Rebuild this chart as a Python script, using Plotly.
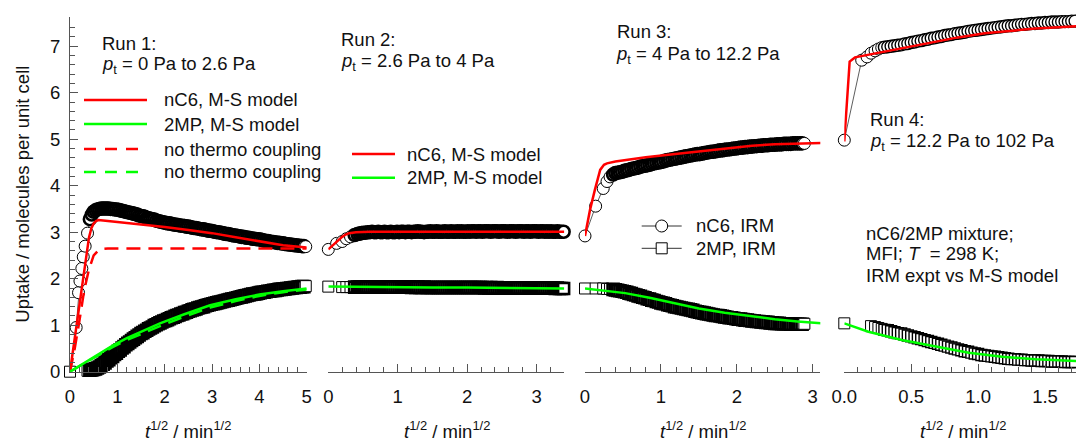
import plotly.graph_objects as go

# ---------------- IRM uptake data (t^1/2 in min^1/2, molecules per unit cell) ----------------
# Run 1: p_t = 0 Pa -> 2.6 Pa
t1 = [0.0, 0.13, 0.18, 0.21, 0.25, 0.28, 0.32, 0.37, 0.42, 0.46,
      0.50, 0.54, 0.58, 0.62, 0.66, 0.70, 0.74, 0.78, 0.82, 0.86, 0.90, 0.94, 0.98,
      1.02, 1.06, 1.10, 1.14, 1.18, 1.22, 1.26, 1.30, 1.34, 1.38, 1.42, 1.46, 1.50,
      1.54, 1.58, 1.62, 1.66, 1.70, 1.74, 1.78, 1.82, 1.86, 1.90, 1.94, 1.98,
      2.02, 2.06, 2.10, 2.14, 2.18, 2.22, 2.26, 2.30, 2.34, 2.38, 2.42, 2.46, 2.50,
      2.54, 2.58, 2.62, 2.66, 2.70, 2.74, 2.78, 2.82, 2.86, 2.90, 2.94, 2.98,
      3.02, 3.06, 3.10, 3.14, 3.18, 3.22, 3.26, 3.30, 3.34, 3.38, 3.42, 3.46, 3.50,
      3.54, 3.58, 3.62, 3.66, 3.70, 3.74, 3.78, 3.82, 3.86, 3.90, 3.94, 3.98,
      4.02, 4.06, 4.10, 4.14, 4.18, 4.22, 4.26, 4.30, 4.34, 4.38, 4.42, 4.46, 4.50,
      4.54, 4.58, 4.62, 4.66, 4.70, 4.74, 4.78, 4.82, 4.86, 4.90, 4.94, 4.98]
nc6_run1 = [None, 0.95, 1.70, 1.95, 2.22, 2.47, 2.70, 2.98, 3.28, 3.38,
            3.44, 3.47, 3.49, 3.50, 3.51, 3.51, 3.51, 3.51, 3.51, 3.50, 3.50, 3.49, 3.49,
            3.48, 3.47, 3.46, 3.45, 3.44, 3.43, 3.42, 3.41, 3.40, 3.39, 3.38, 3.36, 3.35,
            3.34, 3.33, 3.31, 3.30, 3.29, 3.28, 3.27, 3.25, 3.24, 3.23, 3.22, 3.21,
            3.20, 3.19, 3.19, 3.18, 3.17, 3.16, 3.16, 3.15, 3.14, 3.14, 3.13, 3.12, 3.12,
            3.11, 3.10, 3.09, 3.09, 3.08, 3.07, 3.06, 3.06, 3.05, 3.04, 3.03, 3.03,
            3.02, 3.01, 3.00, 3.00, 2.99, 2.98, 2.97, 2.96, 2.96, 2.95, 2.94, 2.93, 2.93,
            2.92, 2.91, 2.90, 2.90, 2.89, 2.88, 2.88, 2.87, 2.86, 2.86, 2.85, 2.85,
            2.84, 2.83, 2.82, 2.81, 2.81, 2.80, 2.79, 2.79, 2.78, 2.77, 2.77, 2.76, 2.76,
            2.75, 2.74, 2.74, 2.73, 2.73, 2.72, 2.72, 2.71, 2.71, 2.70, 2.70, 2.69]
mp_run1 = [0.0, None, None, None, None, None, None, 0.02, 0.03, 0.04,
           0.05, 0.06, 0.08, 0.10, 0.13, 0.16, 0.19, 0.23, 0.26, 0.30, 0.33, 0.37, 0.40,
           0.44, 0.47, 0.51, 0.54, 0.58, 0.61, 0.64, 0.67, 0.70, 0.73, 0.76, 0.79, 0.82,
           0.84, 0.87, 0.89, 0.92, 0.94, 0.96, 0.99, 1.01, 1.03, 1.05, 1.07, 1.09,
           1.10, 1.12, 1.14, 1.16, 1.17, 1.19, 1.21, 1.22, 1.24, 1.25, 1.27, 1.28, 1.30,
           1.31, 1.33, 1.34, 1.35, 1.37, 1.38, 1.39, 1.40, 1.42, 1.43, 1.44, 1.45,
           1.46, 1.47, 1.48, 1.49, 1.50, 1.51, 1.52, 1.53, 1.54, 1.55, 1.56, 1.57, 1.58,
           1.59, 1.60, 1.61, 1.62, 1.63, 1.64, 1.65, 1.66, 1.67, 1.67, 1.68, 1.69,
           1.70, 1.71, 1.71, 1.72, 1.73, 1.73, 1.74, 1.75, 1.75, 1.76, 1.77, 1.77, 1.78,
           1.78, 1.79, 1.79, 1.80, 1.80, 1.81, 1.81, 1.82, 1.82, 1.83, 1.83, 1.84]

# Run 2: p_t = 2.6 Pa -> 4 Pa
t2 = [0.0, 0.12, 0.20, 0.26, 0.32, 0.38, 0.42,
      0.45, 0.48, 0.51, 0.54, 0.57, 0.60, 0.63, 0.66, 0.69, 0.72, 0.75, 0.78, 0.81,
      0.84, 0.87, 0.90, 0.93, 0.96, 0.99,
      1.02, 1.05, 1.08, 1.11, 1.14, 1.17, 1.20, 1.23, 1.26, 1.29, 1.32, 1.35, 1.38,
      1.41, 1.44, 1.47, 1.50, 1.53, 1.56, 1.59, 1.62, 1.65, 1.68, 1.71, 1.74, 1.77,
      1.80, 1.83, 1.86, 1.89, 1.92, 1.95, 1.98,
      2.01, 2.04, 2.07, 2.10, 2.13, 2.16, 2.19, 2.22, 2.25, 2.28, 2.31, 2.34, 2.37,
      2.40, 2.43, 2.46, 2.49, 2.52, 2.55, 2.58, 2.61, 2.64, 2.67, 2.70, 2.73, 2.76,
      2.79, 2.82, 2.85, 2.88, 2.91, 2.94, 2.97,
      3.00, 3.03, 3.06, 3.09, 3.12, 3.15, 3.18, 3.21, 3.24, 3.27, 3.30, 3.33, 3.36,
      3.39, 3.42]
nc6_run2 = [2.63, 2.76, 2.80, 2.86, 2.90, 2.94, 2.96,
            2.97, 2.98, 2.99, 2.99, 3.00, 3.00, 3.01, 3.00, 3.00, 3.01, 3.00, 3.00, 3.01,
            3.00, 3.00, 3.01, 3.00, 3.00, 3.01,
            3.00, 3.01, 3.01, 3.00, 3.01, 3.01, 3.00, 3.01, 3.01, 3.02, 3.01, 3.01, 3.00,
            3.01, 3.01, 3.02, 3.01, 3.01, 3.02, 3.01, 3.01, 3.01, 3.02, 3.01, 3.01, 3.02,
            3.01, 3.01, 3.02, 3.01, 3.02, 3.01, 3.01,
            3.02, 3.01, 3.02, 3.02, 3.01, 3.02, 3.02, 3.01, 3.02, 3.02, 3.02, 3.01, 3.02,
            3.02, 3.02, 3.01, 3.02, 3.02, 3.02, 3.01, 3.02, 3.02, 3.02, 3.01, 3.02, 3.02,
            3.02, 3.01, 3.02, 3.02, 3.01, 3.02, 3.02,
            3.02, 3.01, 3.02, 3.02, 3.01, 3.02, 3.01, 3.02, 3.01, 3.01, 3.02, 3.01, 3.01,
            3.01, 3.01]
mp_run2 = [1.83, None, 1.82, 1.82, 1.82, 1.82, 1.82,
           1.82, 1.82, 1.82, 1.82, 1.82, 1.82, 1.82, 1.82, 1.82, 1.82, 1.82, 1.82, 1.82,
           1.82, 1.82, 1.82, 1.82, 1.82, 1.82,
           1.82, 1.82, 1.82, 1.82, 1.82, 1.82, 1.81, 1.82, 1.81, 1.82, 1.81, 1.81, 1.82,
           1.81, 1.81, 1.81, 1.81, 1.81, 1.81, 1.81, 1.81, 1.81, 1.81, 1.81, 1.81, 1.81,
           1.81, 1.81, 1.81, 1.81, 1.81, 1.81, 1.81,
           1.81, 1.81, 1.81, 1.81, 1.81, 1.81, 1.81, 1.81, 1.80, 1.81, 1.80, 1.81, 1.80,
           1.80, 1.81, 1.80, 1.80, 1.80, 1.80, 1.80, 1.80, 1.80, 1.80, 1.80, 1.80, 1.80,
           1.80, 1.80, 1.80, 1.80, 1.80, 1.80, 1.80,
           1.80, 1.80, 1.80, 1.80, 1.80, 1.80, 1.80, 1.80, 1.80, 1.79, 1.80, 1.79, 1.79,
           1.79, 1.79]

# Run 3: p_t = 4 Pa -> 12.2 Pa
t3 = [0.0, 0.14, 0.24, 0.29, 0.33, 0.37, 0.40,
      0.43, 0.46, 0.49, 0.52, 0.55, 0.58, 0.61, 0.64, 0.67, 0.70, 0.73, 0.76, 0.79,
      0.82, 0.85, 0.88, 0.91, 0.94, 0.97, 1.00,
      1.03, 1.06, 1.09, 1.12, 1.15, 1.18, 1.21, 1.24, 1.27, 1.30, 1.33, 1.36, 1.39,
      1.42, 1.45, 1.48, 1.51, 1.54, 1.57, 1.60, 1.63, 1.66, 1.69, 1.72, 1.75, 1.78,
      1.81, 1.84, 1.87, 1.90, 1.93, 1.96, 1.99,
      2.02, 2.05, 2.08, 2.11, 2.14, 2.17, 2.20, 2.23, 2.26, 2.29, 2.32, 2.35, 2.38,
      2.41, 2.44, 2.47, 2.50, 2.53, 2.56, 2.59, 2.62, 2.65, 2.68, 2.71, 2.74, 2.77,
      2.80, 2.83, 2.86, 2.89]
nc6_run3 = [2.92, 3.56, 3.94, 4.09, 4.19, 4.24, 4.27,
            4.28, 4.29, 4.30, 4.32, 4.33, 4.34, 4.36, 4.37, 4.38, 4.39, 4.41, 4.42, 4.43,
            4.44, 4.45, 4.47, 4.48, 4.49, 4.50, 4.51,
            4.52, 4.54, 4.55, 4.56, 4.57, 4.58, 4.59, 4.60, 4.61, 4.62, 4.63, 4.64, 4.65,
            4.66, 4.67, 4.68, 4.68, 4.69, 4.70, 4.71, 4.72, 4.73, 4.73, 4.74, 4.75, 4.76,
            4.76, 4.77, 4.78, 4.78, 4.79, 4.80, 4.80,
            4.81, 4.82, 4.82, 4.83, 4.83, 4.84, 4.84, 4.85, 4.85, 4.86, 4.86, 4.87, 4.87,
            4.87, 4.88, 4.88, 4.88, 4.89, 4.89, 4.89, 4.90, 4.90, 4.90, 4.90, 4.91, 4.91,
            4.91, 4.91, 4.91, 4.91]
mp_run3 = [1.79, 1.79, 1.79, 1.78, 1.78, 1.77, 1.76,
           1.75, 1.74, 1.73, 1.72, 1.71, 1.69, 1.68, 1.66, 1.65, 1.63, 1.62, 1.60, 1.59,
           1.57, 1.56, 1.54, 1.53, 1.51, 1.50, 1.48,
           1.47, 1.46, 1.44, 1.43, 1.42, 1.40, 1.39, 1.38, 1.37, 1.36, 1.35, 1.34, 1.33,
           1.32, 1.30, 1.29, 1.28, 1.27, 1.26, 1.25, 1.24, 1.23, 1.22, 1.21, 1.21, 1.20,
           1.19, 1.18, 1.17, 1.16, 1.16, 1.15, 1.14,
           1.13, 1.13, 1.12, 1.11, 1.11, 1.10, 1.09, 1.09, 1.08, 1.08, 1.07, 1.07, 1.06,
           1.06, 1.05, 1.05, 1.04, 1.04, 1.04, 1.03, 1.03, 1.03, 1.03, 1.02, 1.02, 1.02,
           1.02, 1.02, 1.02, 1.03]

# Run 4: p_t = 12.2 Pa -> 102 Pa
t4 = [0.0, 0.13, 0.17, 0.20, 0.23, 0.255, 0.28,
      0.300, 0.325, 0.350, 0.375, 0.400, 0.425, 0.450, 0.475, 0.500, 0.525, 0.550, 0.575,
      0.600, 0.625, 0.650, 0.675, 0.700, 0.725, 0.750, 0.775, 0.800, 0.825, 0.850, 0.875,
      0.900, 0.925, 0.950, 0.975, 1.000, 1.025, 1.050, 1.075, 1.100, 1.125, 1.150, 1.175,
      1.200, 1.225, 1.250, 1.275, 1.300, 1.325, 1.350, 1.375, 1.400, 1.425, 1.450, 1.475,
      1.500, 1.525, 1.550, 1.575, 1.600, 1.625, 1.650, 1.675, 1.700, 1.725, 1.750, 1.775]
nc6_run4 = [4.98, 6.70, 6.77, 6.85, 6.90, 6.94, 6.97,
            6.98, 6.99, 7.00, 7.01, 7.02, 7.03, 7.05, 7.06, 7.08, 7.09, 7.11, 7.12,
            7.14, 7.15, 7.17, 7.18, 7.20, 7.21, 7.23, 7.24, 7.25, 7.27, 7.28, 7.29,
            7.30, 7.32, 7.33, 7.34, 7.35, 7.36, 7.37, 7.38, 7.39, 7.40, 7.41, 7.42,
            7.43, 7.44, 7.44, 7.45, 7.46, 7.47, 7.47, 7.48, 7.49, 7.49, 7.50, 7.50,
            7.51, 7.51, 7.52, 7.52, 7.52, 7.53, 7.53, 7.53, 7.54, 7.54, 7.54, 7.55]
mp_run4 = [1.04, None, None, 0.98, 0.96, 0.94, 0.92,
           0.90, 0.89, 0.87, 0.85, 0.83, 0.82, 0.80, 0.78, 0.76, 0.74, 0.72, 0.70,
           0.68, 0.66, 0.64, 0.62, 0.60, 0.58, 0.56, 0.54, 0.52, 0.50, 0.48, 0.46,
           0.44, 0.43, 0.41, 0.39, 0.38, 0.36, 0.35, 0.34, 0.33, 0.32, 0.31, 0.30,
           0.29, 0.28, 0.27, 0.27, 0.26, 0.26, 0.25, 0.25, 0.24, 0.24, 0.24, 0.23,
           0.23, 0.23, 0.22, 0.22, 0.22, 0.22, 0.21, 0.21, 0.21, 0.21, 0.21, 0.20]

# ---------------- Maxwell-Stefan model curves ----------------
ms1_t_nc6 = [0, 0.1, 0.2, 0.3, 0.35, 0.4, 0.45, 0.5, 0.55, 0.6, 0.7, 0.8, 1.0,
             1.5, 2.0, 2.5, 3.0, 3.5, 4.0, 4.5, 5.0]
ms1_nc6 = [0, 0.70, 1.45, 2.20, 2.55, 2.88, 3.08, 3.19, 3.24, 3.26, 3.25, 3.24, 3.22,
           3.17, 3.11, 3.05, 2.98, 2.89, 2.80, 2.72, 2.67]
nc1_t_nc6 = [0, 0.1, 0.2, 0.3, 0.4, 0.5, 0.6, 0.7, 0.8, 1.0, 5.0]
nc1_nc6 = [0, 0.50, 1.10, 1.75, 2.20, 2.50, 2.61, 2.64, 2.65, 2.65, 2.65]
ms1_t_mp = [0, 0.3, 0.6, 0.9, 1.2, 1.5, 1.9, 2.4, 2.96, 3.5, 4.0, 4.5, 5.0]
ms1_mp = [0, 0.19, 0.38, 0.56, 0.72, 0.86, 1.04, 1.23, 1.43, 1.56, 1.66, 1.73, 1.79]
nc1_mp = [0, 0.18, 0.36, 0.53, 0.68, 0.81, 0.98, 1.18, 1.38, 1.52, 1.63, 1.71, 1.77]

ms2_t_nc6 = [0, 0.05, 0.1, 0.15, 0.2, 0.25, 0.3, 0.4, 0.6, 1.0, 2.0, 3.0, 3.4]
ms2_nc6 = [2.63, 2.70, 2.77, 2.84, 2.90, 2.95, 2.98, 3.00, 3.01, 3.01, 3.01, 3.01, 3.01]
ms2_t_mp = [0, 0.5, 1.0, 1.5, 2.0, 2.5, 3.0, 3.4]
ms2_mp = [1.83, 1.82, 1.82, 1.81, 1.81, 1.80, 1.80, 1.79]

ms3_t_nc6 = [0, 0.066, 0.13, 0.2, 0.25, 0.29, 0.4, 0.53, 0.8, 1.19, 1.5, 1.84, 2.2,
             2.5, 2.8, 3.12]
ms3_nc6 = [2.92, 3.48, 3.91, 4.34, 4.45, 4.48, 4.52, 4.55, 4.61, 4.68, 4.74, 4.80, 4.86,
           4.89, 4.91, 4.92]
ms3_t_mp = [0, 0.25, 0.53, 0.85, 1.19, 1.5, 1.84, 2.2, 2.5, 2.8, 3.12]
ms3_mp = [1.79, 1.74, 1.69, 1.59, 1.47, 1.36, 1.27, 1.19, 1.13, 1.08, 1.04]

ms4_t_nc6 = [0, 0.04, 0.08, 0.15, 0.3, 0.5, 0.68, 0.85, 1.05, 1.25, 1.43, 1.6, 1.75]
ms4_nc6 = [4.95, 6.67, 6.76, 6.80, 6.88, 6.99, 7.10, 7.19, 7.28, 7.34, 7.38, 7.41, 7.43]
ms4_t_mp = [0, 0.18, 0.43, 0.68, 0.93, 1.18, 1.43, 1.75]
ms4_mp = [1.04, 0.86, 0.68, 0.54, 0.41, 0.32, 0.27, 0.23]

# ---------------- styling ----------------
FONT = "Arial, Liberation Sans, sans-serif"
FS = 18.5
TXT = "#111111"
AX = "#555555"
RED = "#ff0000"
GREEN = "#00ff00"
W, H = 1076, 442


def px(x, y):
    """pixel position -> paper coordinates"""
    return x / W, 1 - y / H


def outline_widths(n, n_lead, dense_w):
    """thin outlines for isolated leading/final points, heavier in the dense run"""
    return [1.0] * n_lead + [dense_w] * (n - n_lead - 1) + [1.0]


fig = go.Figure()

runs = [(t1, nc6_run1, mp_run1, "x", 8, 2.6), (t2, nc6_run2, mp_run2, "x2", 5, 2.6),
        (t3, nc6_run3, mp_run3, "x3", 5, 2.6), (t4, nc6_run4, mp_run4, "x4", 7, 1.4)]
for t, nc6, mp, xa, lead, dense_w in runs:
    lw = outline_widths(len(t), lead, dense_w)
    for vals, sym, size in ((mp, "square", 11), (nc6, "circle", 12)):
        fig.add_trace(go.Scatter(
            x=t, y=vals, xaxis=xa, yaxis="y", mode="lines+markers",
            line=dict(color="#333333", width=0.8),
            marker=dict(symbol=sym, size=size, color="white",
                        line=dict(color="black", width=lw)),
            cliponaxis=False, showlegend=False, hoverinfo="skip"))

models = [
    (ms1_t_nc6, ms1_nc6, "x", RED, "solid"),
    (nc1_t_nc6, nc1_nc6, "x", RED, "14px,8px"),
    (ms1_t_mp, ms1_mp, "x", GREEN, "solid"),
    (ms1_t_mp, nc1_mp, "x", GREEN, "14px,8px"),
    (ms2_t_nc6, ms2_nc6, "x2", RED, "solid"),
    (ms2_t_mp, ms2_mp, "x2", GREEN, "solid"),
    (ms3_t_nc6, ms3_nc6, "x3", RED, "solid"),
    (ms3_t_mp, ms3_mp, "x3", GREEN, "solid"),
    (ms4_t_nc6, ms4_nc6, "x4", RED, "solid"),
    (ms4_t_mp, ms4_mp, "x4", GREEN, "solid"),
]
for t, vals, xa, col, dash in models:
    fig.add_trace(go.Scatter(x=t, y=vals, xaxis=xa, yaxis="y", mode="lines",
                             line=dict(color=col, width=2.5, dash=dash),
                             showlegend=False, hoverinfo="skip"))


def xaxis(domain, rng, dtick, minor, fmt=None):
    d = dict(domain=domain, range=rng, anchor="y", automargin=False, showline=True,
             linecolor=AX, linewidth=1, ticks="inside", ticklen=8, tickwidth=1,
             tickcolor=AX, tick0=0, dtick=dtick, showgrid=False, zeroline=False,
             ticklabelstandoff=8, tickfont=dict(family=FONT, size=FS, color=TXT),
             minor=dict(ticks="inside", tick0=0, dtick=minor, ticklen=4.5,
                        tickwidth=1, tickcolor=AX, showgrid=False))
    if fmt:
        d["tickformat"] = fmt
    return d


fig.update_layout(
    width=W, height=H, margin=dict(l=0, r=0, t=0, b=0, autoexpand=False),
    paper_bgcolor="white", plot_bgcolor="white", showlegend=False,
    font=dict(family=FONT, size=FS, color=TXT),
    xaxis=xaxis([70 / W, 306.7 / W], [0, 5], 1, 0.2),
    xaxis2=xaxis([328.3 / W, 564.3 / W], [0, 3.4], 1, 0.2),
    xaxis3=xaxis([585 / W, 820.3 / W], [0, 3.1], 1, 0.2),
    xaxis4=xaxis([844.3 / W, 1.0], [0, 1.7317], 0.5, 0.1, ".1f"),
    yaxis=dict(domain=[1 - 371.7 / H, 1 - 17.4 / H], range=[0, 7.62], anchor="x",
               automargin=False, showline=True, linecolor=AX, linewidth=1,
               ticks="inside", ticklen=8, tickwidth=1, tickcolor=AX, tick0=0, dtick=1,
               showgrid=False, zeroline=False, ticklabelstandoff=5,
               tickfont=dict(family=FONT, size=FS, color=TXT),
               minor=dict(ticks="inside", tick0=0, dtick=0.2, ticklen=5,
                          tickwidth=1, tickcolor=AX, showgrid=False)),
)

# ---------------- text ----------------
ann = []


def text(x, y, s, anchor="left", angle=0):
    xp, yp = px(x, y)
    ann.append(dict(x=xp, y=yp, xref="paper", yref="paper", text=s, showarrow=False,
                    xanchor=anchor, yanchor="middle", textangle=angle,
                    font=dict(family=FONT, size=FS, color=TXT)))


PT = "<i>p</i><sub>t</sub>"
text(100, 43.5, "Run 1:")
text(100, 65, PT + " = 0 Pa to 2.6 Pa")
text(339, 39, "Run 2:")
text(339, 62, PT + " = 2.6 Pa to 4 Pa")
text(615, 31.5, "Run 3:")
text(614, 55, PT + " = 4 Pa to 12.2 Pa")
text(868, 120, "Run 4:")
text(868, 142, PT + " = 12.2 Pa to 102 Pa")
text(864, 233, "nC6/2MP mixture;")
text(864, 254, "MFI; <i>T</i>&nbsp; = 298 K;")
text(864, 275, "IRM expt vs M-S model")

legend_rows = [(162, 100, "nC6, M-S model"), (162, 124, "2MP, M-S model"),
               (162, 149, "no thermo coupling"), (162, 172, "no thermo coupling"),
               (405, 154, "nC6, M-S model"), (405, 177.7, "2MP, M-S model"),
               (694, 226, "nC6, IRM"), (694, 248.3, "2MP, IRM")]
for x, y, s in legend_rows:
    text(x, y, s)

XT = "<i>t</i><sup>1/2</sup> / min<sup>1/2</sup>"
for xc in (188, 446.7, 702.5, 962.5):
    text(xc, 430, XT, anchor="center")
text(21.7, 194, "Uptake / molecules per unit cell", anchor="center", angle=-90)

fig.update_layout(annotations=ann)

# ---------------- legend keys ----------------
shapes = []


def hline(x0, x1, y, col, width, dash="solid"):
    a, b = px(x0, y)
    c, _ = px(x1, y)
    shapes.append(dict(type="line", xref="paper", yref="paper", x0=a, x1=c, y0=b, y1=b,
                       line=dict(color=col, width=width, dash=dash)))


hline(84, 147, 100, RED, 2.5)
hline(84, 147, 124, GREEN, 2.5)
hline(84, 147, 149, RED, 2.5, "12px,9px")
hline(84, 147, 172, GREEN, 2.5, "12px,9px")
hline(352, 395, 154, RED, 2.5)
hline(352, 395, 177.7, GREEN, 2.5)
hline(641.7, 681.7, 226, "#333333", 1)
hline(641.7, 681.7, 248.3, "#333333", 1)
for kind, yc, r in (("circle", 226, 6), ("rect", 248.3, 5.5)):
    x0, y0 = px(661.7 - r, yc + r)
    x1, y1 = px(661.7 + r, yc - r)
    shapes.append(dict(type=kind, xref="paper", yref="paper", x0=x0, x1=x1, y0=y0, y1=y1,
                       fillcolor="white", line=dict(color="black", width=1)))

fig.update_layout(shapes=shapes)

fig.write_html("out.html")
